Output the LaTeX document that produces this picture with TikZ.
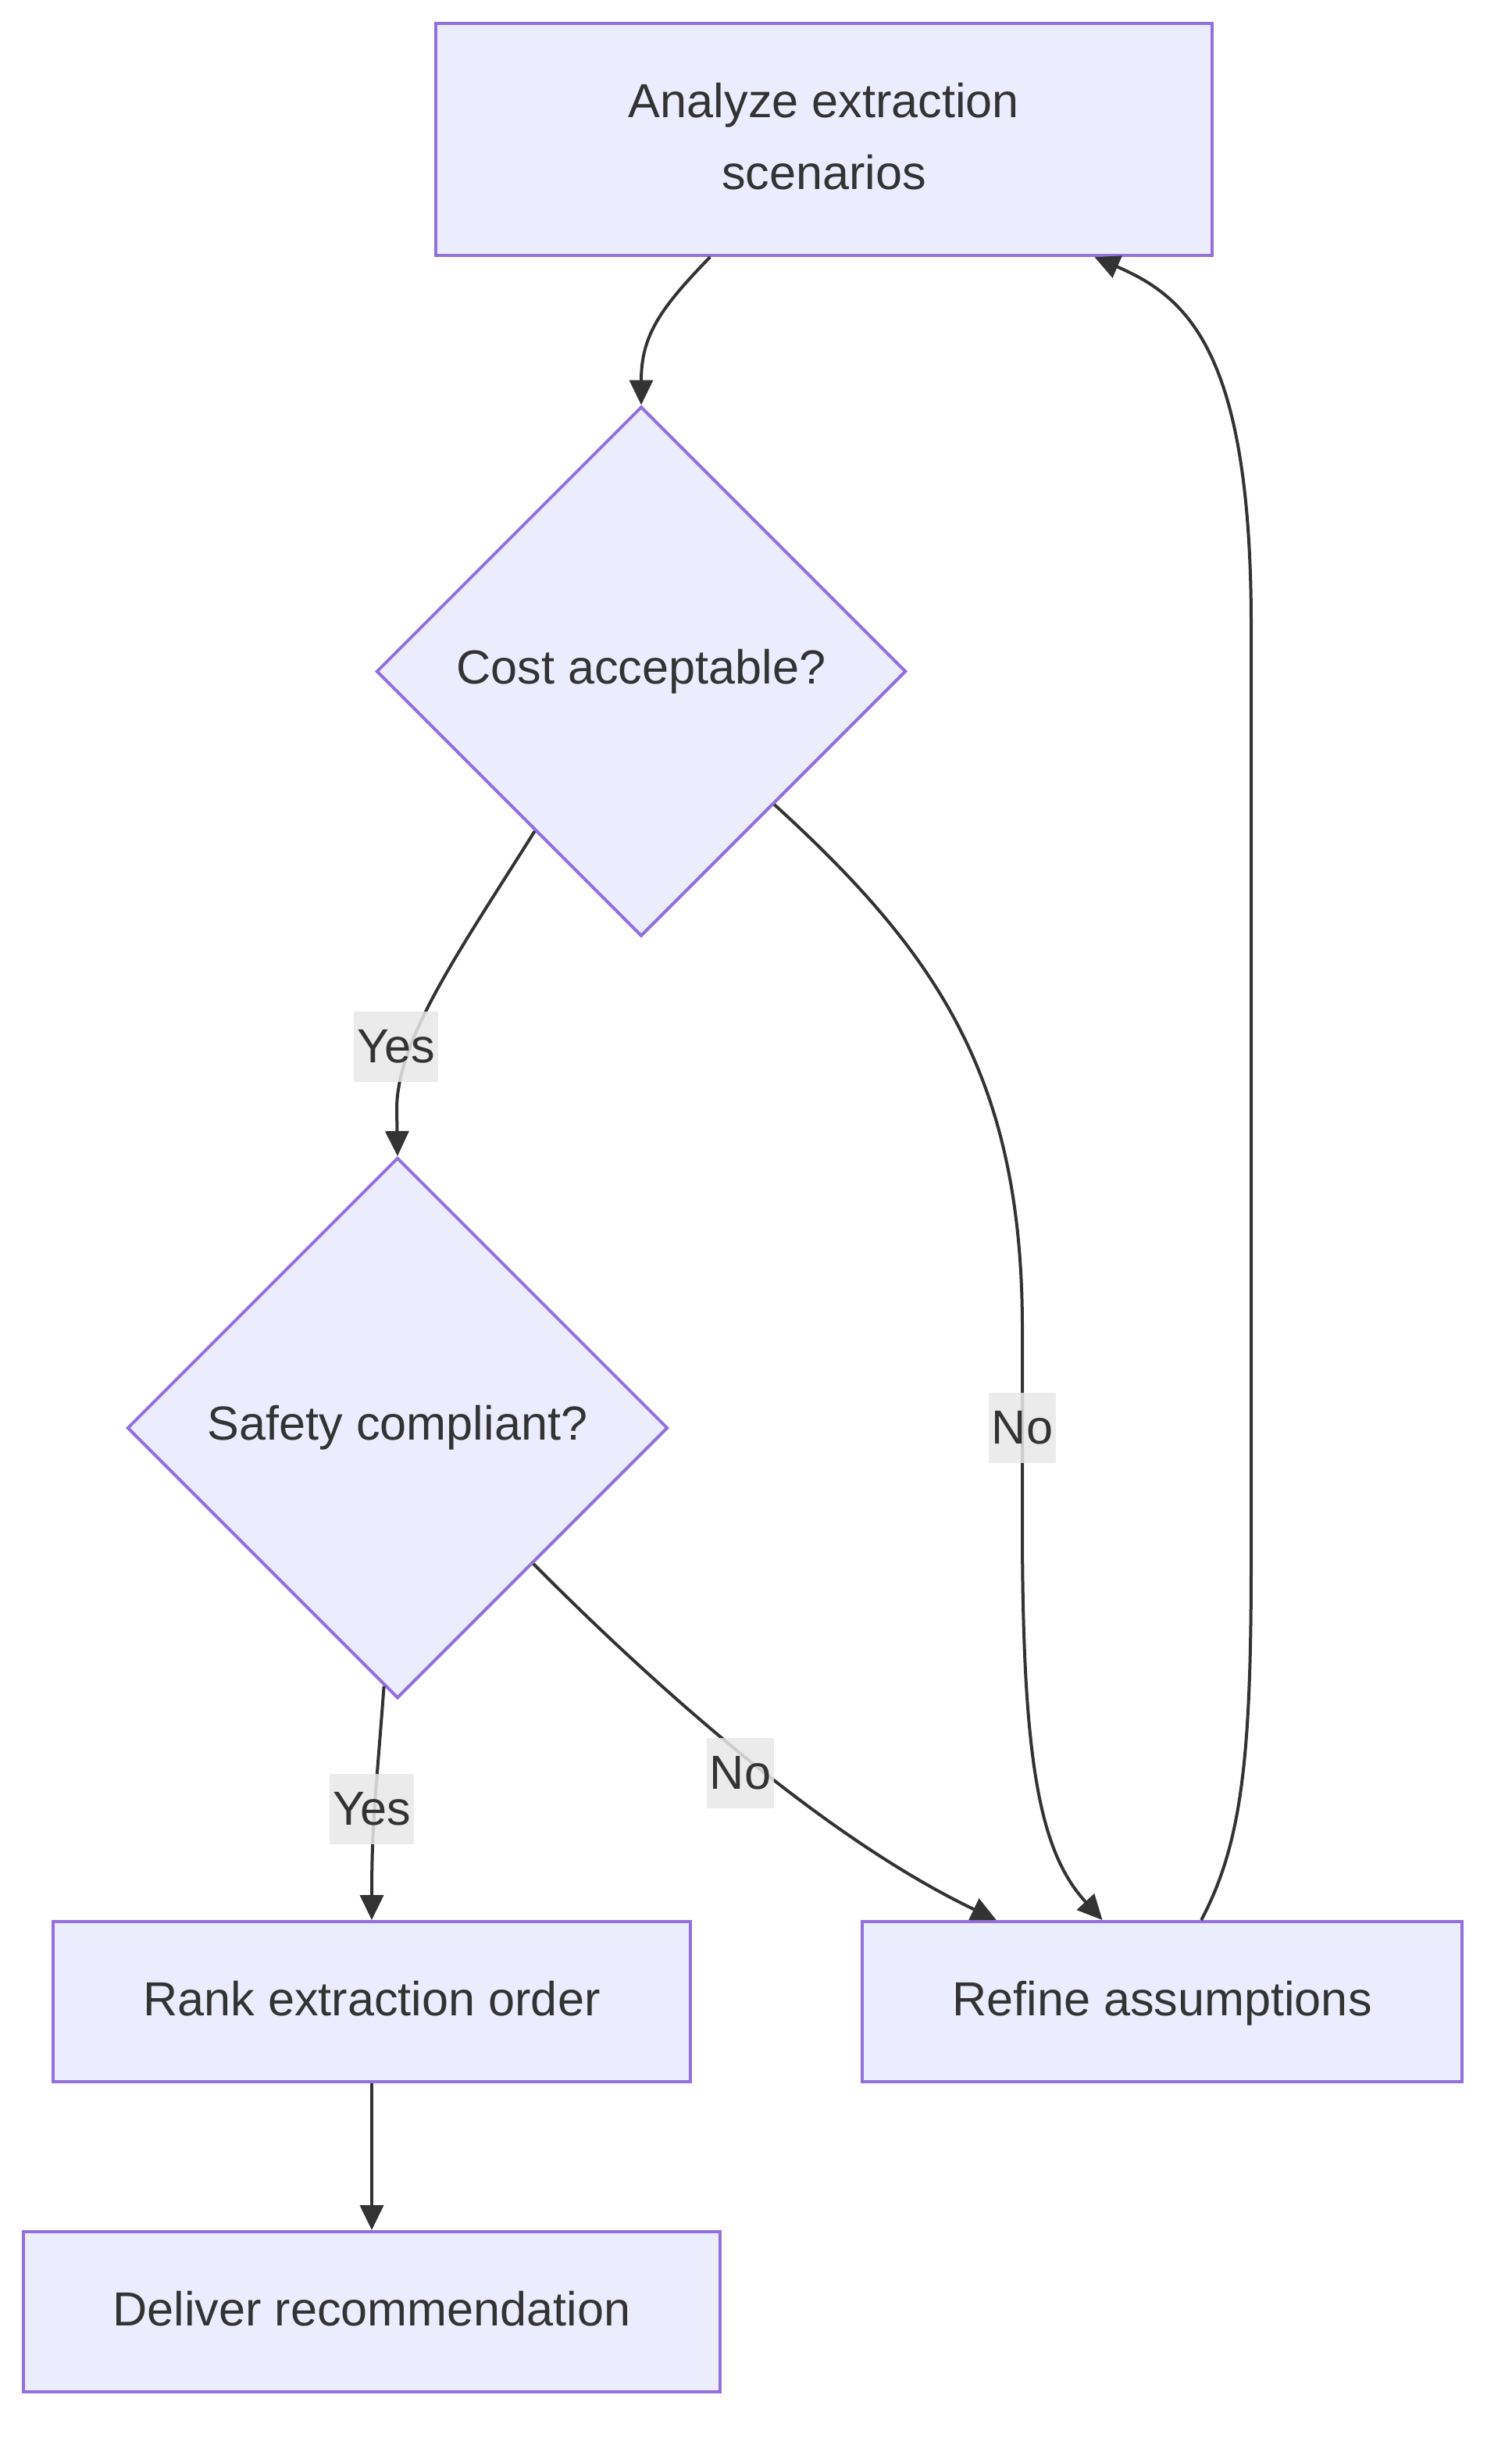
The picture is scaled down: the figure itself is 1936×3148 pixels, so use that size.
\documentclass[tikz,border=0pt]{standalone}
\usepackage{fontspec}
\setsansfont{Liberation Sans}
\usetikzlibrary{arrows.meta, shapes.geometric, calc}
\definecolor{cfill}{HTML}{ECECFF}
\definecolor{cline}{HTML}{9370DB}
\definecolor{cedge}{HTML}{333333}
\definecolor{clabel}{HTML}{E8E8E8}
\tikzset{
  every picture/.style={font=\sffamily\fontsize{15.3}{23}\selectfont, line width=1pt},
  box/.style={draw=cline, fill=cfill, text=cedge, align=center, inner sep=0pt, text depth=0.22em, minimum height=51.25pt},
  dia/.style={diamond, aspect=1, draw=cline, fill=cfill, text=cedge, inner sep=0pt},
  arrow/.style={-{Triangle[length=8pt, width=7.5pt]}, draw=cedge, line width=1pt},
  lbl/.style={fill=clabel, fill opacity=0.85, text opacity=1, text=cedge, inner xsep=1pt, inner ysep=0pt, minimum height=22.5pt},
}

\begin{document}
\begin{tikzpicture}[x=0.25pt, y=-0.25pt]
  \useasboundingbox (0,0) rectangle (1936,3148);
  \node[box, minimum width=248.5pt, minimum height=74.25pt] (analyze) at (1055, 178.5) {Analyze extraction\\scenarios};
  \node[dia, minimum size=169.5pt] (cost) at (821, 859.5) {Cost acceptable?};
  \node[dia, minimum size=173pt] (safety) at (509, 1828) {Safety compliant?};
  \node[box, minimum width=204pt] (rank) at (476, 2562.5) {Rank extraction order};
  \node[box, minimum width=192pt] (refine) at (1488, 2562.5) {Refine assumptions};
  \node[box, minimum width=223pt] (deliver) at (476, 2959.5) {Deliver recommendation};
  \draw[arrow] ($(analyze.south west)!0.354!(analyze.south east)$) .. controls (845,395) and (821,430) .. (cost.north);
  \draw[arrow] ($(cost.south)!0.4!(cost.west)$) .. controls (590,1215) and (508,1330) .. (508,1420) -- (safety.north);
  \draw[arrow] ($(cost.south)!0.5!(cost.east)$) .. controls (1200,1220) and (1309,1380) .. (1309,1700) -- (1309,1950) .. controls (1309,2250) and (1330,2370) .. ($(refine.north west)!0.401!(refine.north east)$);
  \draw[arrow] ($(safety.south)!0.05!(safety.west)$) .. controls (482,2290) and (476,2330) .. (rank.north);
  \draw[arrow] ($(safety.south)!0.5!(safety.east)$) .. controls (830,2150) and (1050,2350) .. ($(refine.north west)!0.225!(refine.north east)$);
  \draw[arrow] ($(refine.north west)!0.565!(refine.north east)$) .. controls (1590,2360) and (1602,2250) .. (1602,2000) -- (1602,800) .. controls (1602,450) and (1520,380) .. ($(analyze.south west)!0.847!(analyze.south east)$);
  \draw[arrow] (rank) -- (deliver);
  % edge labels
  \node[lbl] (yes1) at (507, 1340) {Yes};
  \node[lbl] (no1) at (1309, 1828) {No};
  \node[lbl] (yes2) at (476, 2316) {Yes};
  \node[lbl] (no2) at (948, 2270) {No};
\end{tikzpicture}
\end{document}
